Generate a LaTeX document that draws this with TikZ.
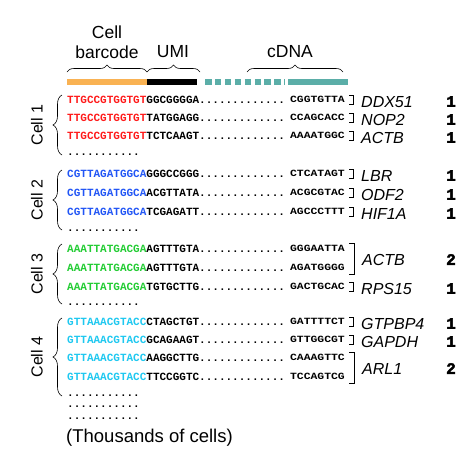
\documentclass[tikz,border=0pt]{standalone}
\usepackage{fontspec}
\setmainfont{Liberation Sans}
\newfontfamily\seqfont{Liberation Mono}
\newfontfamily\cdnafont[FakeStretch=1.2]{Liberation Mono}
\newfontfamily\numfont[BoldFeatures={FakeBold=2.5}]{Liberation Mono}
\usetikzlibrary{decorations.pathreplacing}
\definecolor{bcred}{HTML}{FF1A1A}
\definecolor{bcblue}{HTML}{2155F5}
\definecolor{bcgreen}{HTML}{22CC33}
\definecolor{bccyan}{HTML}{1EC8F0}
\definecolor{barorange}{HTML}{F9B253}
\definecolor{barteal}{HTML}{5BAEA8}
\tikzset{
  seq/.style={anchor=west, inner sep=0pt, font=\seqfont\bfseries\fontsize{11}{11}\selectfont, text height=6pt, text depth=0pt},
  cdna/.style={anchor=east, inner sep=0pt, font=\cdnafont\bfseries\fontsize{9.5}{9.5}\selectfont, text height=5pt, text depth=0pt},
  gene/.style={anchor=west, inner sep=0pt, font=\itshape\fontsize{16}{16}\selectfont, text height=11.5pt, text depth=0pt},
  num/.style={inner sep=0pt, font=\numfont\bfseries\fontsize{16}{16}\selectfont},
  cell/.style={inner sep=0pt, rotate=90, font=\fontsize{16}{16}\selectfont},
  head/.style={inner sep=0pt, font=\fontsize{17.5}{20}\selectfont, align=center},
  gb/.style={line width=0.6pt},
  cbrace/.style={decorate, decoration={brace, amplitude=9pt}, line width=0.6pt},
  hbrace/.style={decorate, decoration={brace, amplitude=7pt}, line width=0.6pt},
  bar/.style={line width=5.5pt}
}
\newcommand{\myrow}[6]{%
  \node[seq] (#1s) at (67,#2) {\textcolor{#3}{#4}#5.............};
  \node[cdna] (#1c) at (345,#2) {#6};
}
\newcommand{\mydots}[2]{\node[seq] (#1) at (67,#2) {...........};}
\newcommand{\genesingle}[4]{%
  \draw[gb] (349,#2-4.5) -- (353.5,#2-4.5) -- (353.5,#2+4.5) -- (349,#2+4.5);
  \node[gene] (#1g) at (361,#2+1.5) {#3};
  \node[num] (#1n) at (451,#2+1.5) {#4};
}
\newcommand{\genedouble}[5]{%
  \draw[gb] (349,#2-6) -- (354,#2-6) -- (354,#3+6) -- (349,#3+6);
  \node[gene] (#1g) at (362,{(#2+#3)/2+1}) {#4};
  \node[num] (#1n) at (451,{(#2+#3)/2+1}) {#5};
}
\begin{document}
\begin{tikzpicture}[x=1pt,y=-1pt]
\useasboundingbox (0,0) rectangle (460,466);
% header
\node[head] (hcb) at (107,42) {Cell\\barcode};
\node[head] (humi) at (173,52) {UMI};
\node[head] (hcd) at (290,52) {cDNA};
\draw[hbrace] (67,72) -- (147,72);
\draw[hbrace] (147,72) -- (200,72);
\draw[hbrace] (247,72) -- (343,72);
\draw[bar, barorange] (67,82) -- (147,82);
\draw[bar, black] (147,82) -- (197,82);
\draw[bar, barteal, dash pattern=on 6.5pt off 3.4pt] (205,82) -- (285,82);
\draw[bar, barteal] (288,82) -- (348,82);
% cell 1
\myrow{a1}{100}{bcred}{TTGCCGTGGTGT}{GGCGGGGA}{CGGTGTTA}
\myrow{a2}{118}{bcred}{TTGCCGTGGTGT}{TATGGAGG}{CCAGCACC}
\myrow{a3}{136}{bcred}{TTGCCGTGGTGT}{TCTCAAGT}{AAAATGGC}
\mydots{ad}{152}
\genesingle{a1}{100}{DDX51}{1}
\genesingle{a2}{118}{NOP2}{1}
\genesingle{a3}{136}{ACTB}{1}
\draw[cbrace] (62,155) -- (62,95);
\node[cell] (c1) at (37,125) {Cell 1};
% cell 2
\myrow{b1}{174}{bcblue}{CGTTAGATGGCA}{GGGCCGGG}{CTCATAGT}
\myrow{b2}{193}{bcblue}{CGTTAGATGGCA}{ACGTTATA}{ACGCGTAC}
\myrow{b3}{212}{bcblue}{CGTTAGATGGCA}{TCGAGATT}{AGCCCTTT}
\mydots{bd}{228}
\genesingle{b1}{174}{LBR}{1}
\genesingle{b2}{193}{ODF2}{1}
\genesingle{b3}{212}{HIF1A}{1}
\draw[cbrace] (62,230) -- (62,170);
\node[cell] (c2) at (37,200) {Cell 2};
% cell 3
\myrow{g1}{249}{bcgreen}{AAATTATGACGA}{AGTTTGTA}{GGGAATTA}
\myrow{g2}{268}{bcgreen}{AAATTATGACGA}{AGTTTGTA}{AGATGGGG}
\myrow{g3}{287}{bcgreen}{AAATTATGACGA}{TGTGCTTG}{GACTGCAC}
\mydots{gd}{302}
\genedouble{g1}{249}{268}{ACTB}{2}
\genesingle{g3}{287}{RPS15}{1}
\draw[cbrace] (62,304) -- (62,244);
\node[cell] (c3) at (37,274) {Cell 3};
% cell 4
\myrow{d1}{322}{bccyan}{GTTAAACGTACC}{CTAGCTGT}{GATTTTCT}
\myrow{d2}{340}{bccyan}{GTTAAACGTACC}{GCAGAAGT}{GTTGGCGT}
\myrow{d3}{358}{bccyan}{GTTAAACGTACC}{AAGGCTTG}{CAAAGTTC}
\myrow{d4}{377}{bccyan}{GTTAAACGTACC}{TTCCGGTC}{TCCAGTCG}
\mydots{dd1}{393}
\mydots{dd2}{404}
\mydots{dd3}{416}
\genesingle{d1}{322}{GTPBP4}{1}
\genesingle{d2}{340}{GAPDH}{1}
\genedouble{d3}{358}{377}{ARL1}{2}
\draw[cbrace] (62,396) -- (62,318);
\node[cell] (c4) at (37,357) {Cell 4};
\node[head, anchor=west, font=\fontsize{18.5}{20}\selectfont] (thou) at (66,438) {(Thousands of cells)};
\end{tikzpicture}
\end{document}
